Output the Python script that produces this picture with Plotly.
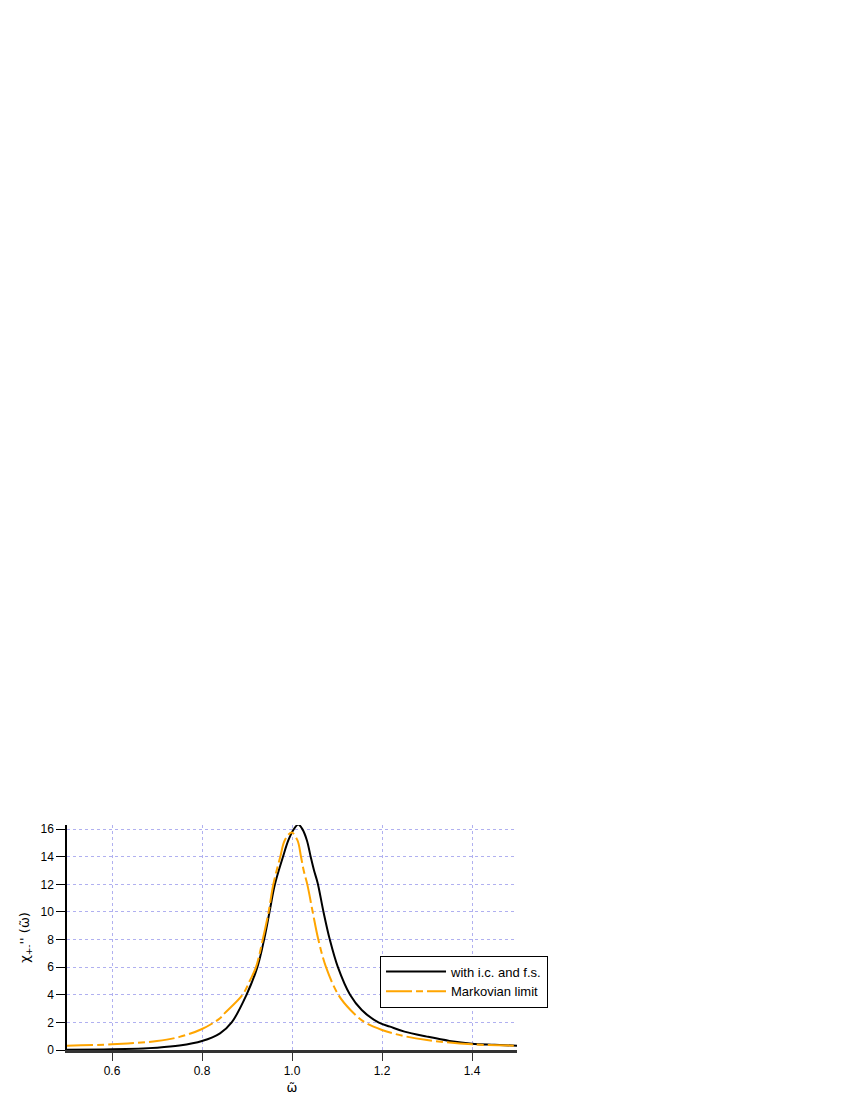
import plotly.graph_objects as go

omega_full = [0.50, 0.60, 0.70, 0.75, 0.80, 0.84, 0.866, 0.899, 0.923, 0.938, 0.950,
              0.962, 0.980, 0.992, 1.004, 1.014, 1.023, 1.033, 1.0415, 1.049, 1.057,
              1.070, 1.084, 1.102, 1.129, 1.155, 1.192, 1.218, 1.25, 1.30, 1.35,
              1.40, 1.45, 1.50]
chi_full = [0.02, 0.05, 0.17, 0.32, 0.65, 1.21, 2.0, 4.0, 6.0, 8.0, 10.0,
            12.0, 14.0, 15.2, 16.0, 16.33, 16.0, 15.2, 14.0, 13.0, 12.1,
            10.0, 8.0, 6.0, 4.0, 2.9, 2.0, 1.69, 1.33, 0.97, 0.66,
            0.46, 0.38, 0.31]

omega_markov = [0.50, 0.60, 0.70, 0.75, 0.80, 0.84, 0.85, 0.890, 0.906, 0.920, 0.935,
                0.948, 0.9585, 0.974, 0.984, 0.999, 1.012, 1.020, 1.026, 1.034, 1.046,
                1.0585, 1.0756, 1.103, 1.130, 1.162, 1.20, 1.25, 1.30, 1.40, 1.50]
chi_markov = [0.31, 0.41, 0.65, 0.95, 1.52, 2.3, 2.65, 4.0, 5.0, 6.0, 8.0,
              10.0, 12.0, 14.0, 15.2, 15.75, 15.2, 14.0, 13.0, 12.0, 10.0,
              8.0, 6.0, 4.0, 2.9, 2.0, 1.45, 1.0, 0.72, 0.41, 0.31]

x_ticks = [0.6, 0.8, 1.0, 1.2, 1.4]
y_ticks = [0, 2, 4, 6, 8, 10, 12, 14, 16]

FONT = "Liberation Sans, Arial, sans-serif"
TITLE_FONT = "DejaVu Sans, sans-serif"
GRID = "#b0b0f0"

fig = go.Figure()
fig.add_trace(go.Scatter(
    x=omega_full, y=chi_full, mode="lines", name="with i.c. and f.s.",
    line=dict(color="black", width=2, shape="spline", smoothing=1.0),
))
fig.add_trace(go.Scatter(
    x=omega_markov, y=chi_markov, mode="lines", name="Markovian limit",
    line=dict(color="#ffa500", width=2, shape="spline", smoothing=1.0,
              dash="26px,4px,7px,4px"),
))

# page body has an 8px margin, so the plot box is shifted back by that much
fig.update_layout(
    width=850, height=1100,
    margin=dict(l=59, r=341, t=817, b=58),
    paper_bgcolor="white", plot_bgcolor="white",
    font=dict(family=FONT, size=12, color="black"),
    showlegend=True,
    legend=dict(
        x=0.6956, y=0.42, xanchor="left", yanchor="top",
        bordercolor="black", borderwidth=1, bgcolor="white",
        font=dict(family=FONT, size=13), itemwidth=60,
        tracegroupgap=0,
    ),
)
fig.update_xaxes(
    range=[0.5, 1.5], tickvals=x_ticks, tickformat=".1f", automargin=False,
    ticks="outside", ticklen=8, tickcolor="#333", tickwidth=1,
    showline=True, linecolor="#333", linewidth=3,
    showgrid=True, gridcolor=GRID, griddash="dot", gridwidth=1,
    zeroline=False,
    title=dict(text="ω̃", standoff=6, font=dict(family=TITLE_FONT, size=13)),
)
fig.update_yaxes(
    range=[0, 16.3], tickvals=y_ticks, automargin=False,
    ticks="outside", ticklen=9, tickcolor="black", tickwidth=1,
    showline=True, linecolor="black", linewidth=1.5,
    showgrid=True, gridcolor=GRID, griddash="dot", gridwidth=1,
    zeroline=False,
    title=dict(text="χ<sub>+-</sub>'' (ω̃)", standoff=8,
               font=dict(family=TITLE_FONT, size=13)),
)

fig.write_html("out.html")
